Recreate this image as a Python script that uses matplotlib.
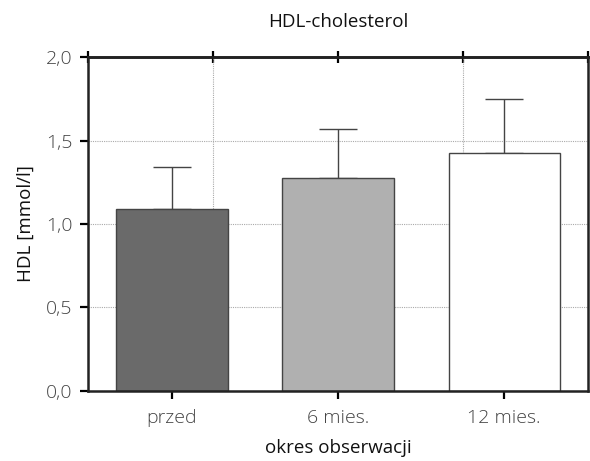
import matplotlib.pyplot as plt
import numpy as np
from matplotlib.ticker import FuncFormatter

# Data
categories = ["przed", "6 mies.", "12 mies."]
means = [1.09, 1.275, 1.425]
sd_upper = [0.25, 0.295, 0.325]
bar_colors = ["#6a6a6a", "#b0b0b0", "#ffffff"]
y_ticks = [0.0, 0.5, 1.0, 1.5, 2.0]

plt.rcParams["font.family"] = ["Open Sans", "DejaVu Sans"]

fig = plt.figure(figsize=(5.9, 4.61), dpi=100)
ax = fig.add_axes([0.149, 0.152, 0.848, 0.724])

x = np.arange(len(categories))
err = np.vstack([np.zeros(len(sd_upper)), sd_upper])
ax.bar(x, means, width=0.67, color=bar_colors, edgecolor="#444444", linewidth=1.0, zorder=2)
ax.errorbar(x, means, yerr=err, fmt="none", ecolor="#444444", elinewidth=1.0,
            capsize=14, capthick=1.0, zorder=1)

ax.set_xlim(-0.506, 2.506)
ax.set_ylim(0, 2.0)
ax.set_xticks(x)
ax.set_xticklabels(categories)
ax.set_yticks(y_ticks)
ax.yaxis.set_major_formatter(FuncFormatter(lambda v, p: f"{v:.1f}".replace(".", ",")))

# vertical grid at quarter positions of the axis, horizontal at y ticks
lo, hi = ax.get_xlim()
quarters = [lo + (hi - lo) * f for f in (0.25, 0.5, 0.75)]
ax.set_xticks(quarters, minor=True)
ax.tick_params(axis="x", which="minor", length=0)
ax.grid(True, which="minor", axis="x", color="#aaaaaa", linestyle=(0, (1, 1)), linewidth=0.8, zorder=0)
ax.grid(True, which="major", axis="y", color="#aaaaaa", linestyle=(0, (1, 1)), linewidth=0.8, zorder=0)
ax.set_axisbelow(True)

top = ax.secondary_xaxis("top")
top.set_xticks([lo] + quarters + [hi])
top.set_xticklabels([])
top.tick_params(direction="inout", length=8, width=1.6)
top.spines["top"].set_linewidth(1.8)

for s in ax.spines.values():
    s.set_linewidth(1.8)
    s.set_color("#222222")

ax.tick_params(axis="both", which="major", direction="out", length=6, width=1.6,
               labelsize=14, labelcolor="#444444")
ax.tick_params(axis="x", pad=7)
ax.tick_params(axis="y", pad=5)
for lbl in ax.get_xticklabels() + ax.get_yticklabels():
    lbl.set_fontweight("light")

ax.set_ylabel("HDL [mmol/l]", fontsize=13.5, color="#111111", labelpad=8)
ax.set_xlabel("okres obserwacji", fontsize=13.5, color="#111111", labelpad=9)
fig.text(0.573, 0.952, "HDL-cholesterol", ha="center", va="center", fontsize=13.5, color="#111111")

fig.savefig("out.png", dpi=100)
